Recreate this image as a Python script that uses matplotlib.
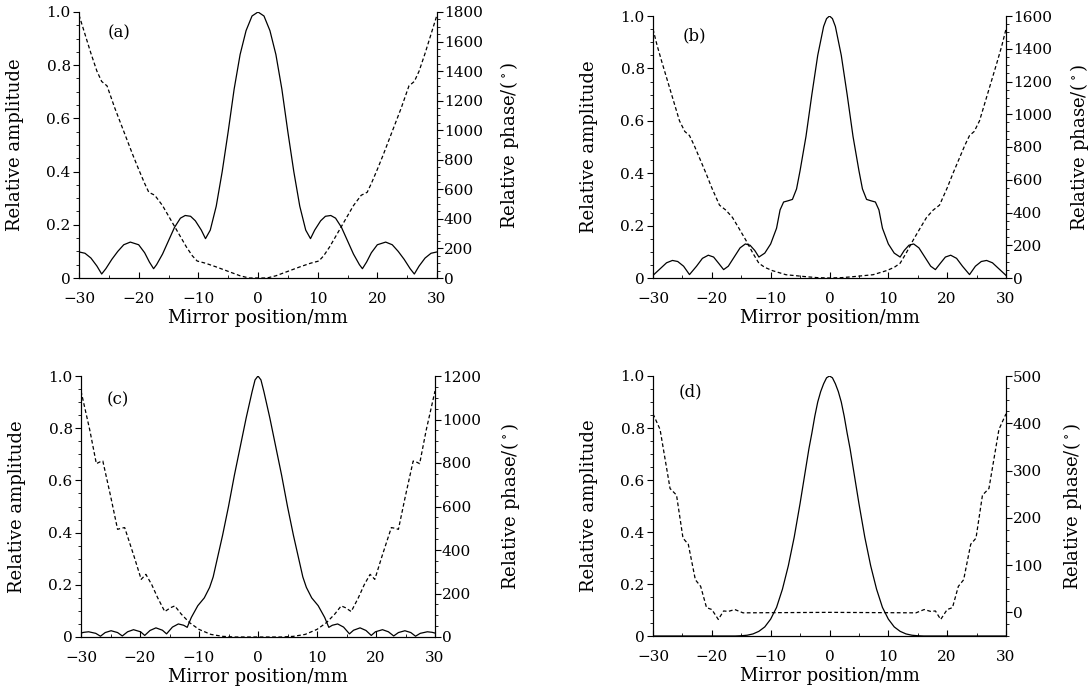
import numpy as np
import matplotlib
matplotlib.use('Agg')
import matplotlib.pyplot as plt
from matplotlib.ticker import MultipleLocator, FuncFormatter

plt.rcParams['font.family'] = ['DejaVu Serif']
plt.rcParams['mathtext.fontset'] = 'dejavuserif'
plt.rcParams['font.size'] = 11

# curves are symmetric about 0, so only the x >= 0 half is listed
# (a)
a_amp_x = [0, 1, 2, 3, 4, 5, 6, 7, 8, 8.8, 9.5, 10.5, 11.3, 12.2, 13, 14, 15, 16, 17, 17.5,
           18.2, 19, 20, 21.4, 22.5, 23.5, 24.5, 25.5, 26.2, 27, 28, 29, 30]
a_amp = [1.0, 0.985, 0.93, 0.84, 0.71, 0.55, 0.40, 0.27, 0.18, 0.148, 0.18, 0.215, 0.232, 0.235,
         0.225, 0.19, 0.14, 0.09, 0.05, 0.035, 0.06, 0.095, 0.125, 0.135, 0.125, 0.10, 0.07,
         0.035, 0.015, 0.045, 0.075, 0.093, 0.098]
a_ph_x = [0, 1.5, 3, 5, 7, 8.8, 10.2, 11, 12, 13, 14, 15, 16, 17.3, 18.3, 19, 20, 21, 22, 23,
          24, 25.3, 26.2, 27, 28, 29, 30]
a_ph = [0, 0, 15, 45, 75, 100, 115, 150, 210, 280, 350, 420, 490, 560, 580, 640, 735, 835,
        940, 1045, 1150, 1300, 1330, 1400, 1520, 1650, 1780]

# (b)
b_amp_x = [0, 0.5, 1, 2, 3, 4, 5, 5.6, 6.3, 7.0, 7.8, 8.4, 9, 10, 11, 12, 12.7, 13.5, 14.3,
           15.2, 16.2, 17.2, 18, 18.8, 19.7, 20.6, 21.6, 22.6, 23.8, 24.8, 25.8, 26.7, 27.7,
           28.8, 30]
b_amp = [1.0, 0.99, 0.96, 0.85, 0.70, 0.54, 0.41, 0.34, 0.30, 0.295, 0.29, 0.26, 0.19, 0.13,
         0.095, 0.08, 0.105, 0.125, 0.13, 0.115, 0.08, 0.045, 0.032, 0.055, 0.08, 0.087, 0.075,
         0.045, 0.013, 0.045, 0.063, 0.067, 0.058, 0.035, 0.01]
b_ph_x = [0, 2, 4, 6, 7.4, 9.7, 11, 12, 13, 14.2, 15.5, 16.5, 17.6, 18.7, 20, 21, 22, 23,
          23.8, 24.6, 25.5, 26.5, 27.5, 28.5, 29.3, 30]
b_ph = [0, 2, 8, 15, 20, 45, 65, 90, 150, 230, 310, 370, 414, 445, 550, 640, 725, 810, 870,
        895, 960, 1080, 1200, 1320, 1420, 1520]

# (c)
c_amp_x = [0, 0.5, 1, 1.5, 2, 3, 4, 5, 6, 7, 7.6, 8.2, 9.1, 10.2, 11.3, 12.0, 12.6, 13.5,
           14.5, 15.5, 16.2, 17.3, 18.3, 19.2, 19.9, 21.1, 22.1, 23.0, 23.8, 24.9, 25.9, 26.7,
           27.5, 28.7, 29.5, 30]
c_amp = [1.0, 0.985, 0.94, 0.89, 0.84, 0.73, 0.62, 0.50, 0.39, 0.29, 0.23, 0.19, 0.15, 0.12,
         0.075, 0.037, 0.045, 0.05, 0.038, 0.012, 0.026, 0.035, 0.025, 0.006, 0.02, 0.028,
         0.02, 0.004, 0.017, 0.024, 0.017, 0.003, 0.014, 0.02, 0.018, 0.015]
c_ph_x = [0, 4, 6, 8, 10, 11.6, 13, 14.1, 14.8, 15.8, 17, 18, 19.0, 19.8, 21, 22.6, 23.2,
          23.8, 25, 26.3, 26.8, 27.4, 28.5, 30]
c_ph = [0, 0, 3, 12, 35, 66, 105, 143, 135, 117, 180, 240, 288, 265, 370, 503, 500, 495,
        650, 809, 805, 797, 950, 1131]

# (d)
d_amp_x = [0, 0.5, 1, 1.5, 2, 2.5, 3, 3.5, 4, 5, 6, 7, 8, 9, 10, 11, 12, 13, 14, 15, 16, 30]
d_amp = [1.0, 0.993, 0.97, 0.94, 0.90, 0.845, 0.78, 0.72, 0.65, 0.51, 0.38, 0.27, 0.18, 0.11,
         0.065, 0.035, 0.018, 0.008, 0.003, 0.001, 0, 0]
d_ph_x = [0, 14.7, 16.1, 17.2, 18.0, 18.9, 20.0, 20.9, 21.9, 22.8, 24.0, 24.9, 26.0, 27.1,
          28.8, 30]
d_ph = [0, -1, 6, 2, 3, -15, 6, 10, 55, 69, 144, 157, 248, 262, 387, 420]

panel_tags = ['(a)', '(b)', '(c)', '(d)']
phase_top = [1800, 1600, 1200, 500]
phase_bottom = [0, 0, 0, -50]
phase_step = [200, 200, 200, 100]


def mirror(xh, yh):
    xh = np.asarray(xh, float)
    yh = np.asarray(yh, float)
    return np.concatenate([-xh[::-1], xh[1:]]), np.concatenate([yh[::-1], yh[1:]])


amps = [(a_amp_x, a_amp), (b_amp_x, b_amp), (c_amp_x, c_amp), (d_amp_x, d_amp)]
phases = [(a_ph_x, a_ph), (b_ph_x, b_ph), (c_ph_x, c_ph), (d_ph_x, d_ph)]

W, H = 1091, 690
# axes boxes in pixels: left, right, top, bottom
boxes = [(79, 437, 12, 278), (653, 1006, 16, 278), (81, 435, 376, 637), (653, 1006, 376, 636)]
tag_pos = [(0.08, 0.92), (0.085, 0.925), (0.073, 0.91), (0.074, 0.94)]
right_label_x = [1.17, 1.175, 1.18, 1.155]

fig = plt.figure(figsize=(W / 100, H / 100), dpi=100)

for i in range(4):
    l, r, t, b = boxes[i]
    ax = fig.add_axes([l / W, 1 - b / H, (r - l) / W, (b - t) / H])
    ax2 = ax.twinx()

    x, y = mirror(*amps[i])
    ax.plot(x, y, color='black', lw=0.9)
    xp, yp = mirror(*phases[i])
    ax2.plot(xp, yp, color='black', lw=0.9, linestyle=(0, (3, 2)))

    ax.set_xlim(-30, 30)
    ax.set_ylim(0, 1.0)
    ax2.set_ylim(phase_bottom[i], phase_top[i])

    ax.xaxis.set_major_locator(MultipleLocator(10))
    ax.xaxis.set_minor_locator(MultipleLocator(5))
    ax.yaxis.set_major_locator(MultipleLocator(0.2))
    ax.yaxis.set_minor_locator(MultipleLocator(0.05))
    ax.yaxis.set_major_formatter(FuncFormatter(lambda v, p: '0' if abs(v) < 1e-9 else f'{v:.1f}'))
    ax2.yaxis.set_major_locator(MultipleLocator(phase_step[i]))
    ax2.yaxis.set_minor_locator(MultipleLocator(phase_step[i] / 4))
    if phase_bottom[i] < 0:
        ax2.set_yticks(np.arange(0, phase_top[i] + 1, phase_step[i]))

    ax.tick_params(axis='x', which='major', direction='in', length=4, width=0.8, pad=10)
    ax.tick_params(axis='x', which='minor', direction='in', length=2, width=0.6)
    ax.tick_params(axis='y', which='major', direction='out', length=4, width=0.8, pad=2)
    ax.tick_params(axis='y', which='minor', direction='out', length=2, width=0.6)
    ax2.tick_params(axis='y', which='major', direction='out', length=4, width=0.8, pad=1)
    ax2.tick_params(axis='y', which='minor', direction='out', length=2, width=0.6)
    for s in ax.spines.values():
        s.set_linewidth(0.8)
    ax.spines['top'].set_visible(False)
    ax2.spines['top'].set_visible(False)

    ax.set_xlabel('Mirror position/mm', fontsize=13)
    ax.xaxis.set_label_coords(0.5, -31 / (b - t))
    ax.set_ylabel('Relative amplitude', fontsize=13)
    ax.yaxis.set_label_coords(-0.155, 0.5)
    ax2.set_ylabel(r'Relative phase/($\,^{\circ}\,$)', fontsize=13)
    ax2.yaxis.set_label_coords(right_label_x[i], 0.5)

    ax.text(tag_pos[i][0], tag_pos[i][1], panel_tags[i], transform=ax.transAxes,
            ha='left', va='center', fontsize=12)

fig.savefig('out.png', dpi=100)
